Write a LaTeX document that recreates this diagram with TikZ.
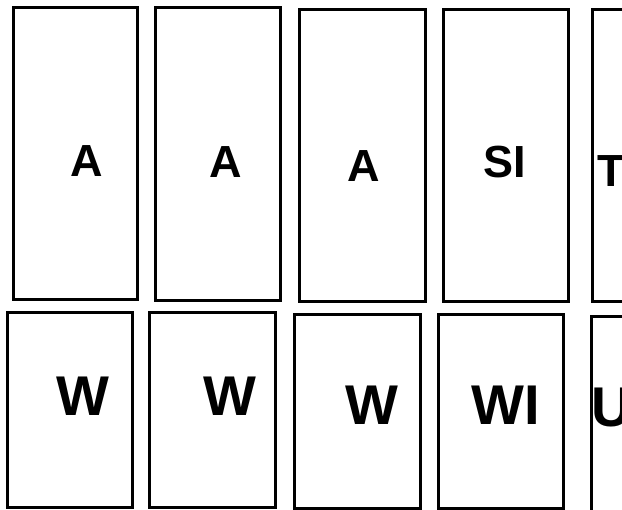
\documentclass[tikz,border=0pt]{standalone}
\usepackage{fontspec}
\setmainfont{Liberation Sans}
\begin{document}
\begin{tikzpicture}[x=1pt,y=1pt,
  box/.style={draw=black, line width=3pt, inner sep=0pt, fill=none},
  toplbl/.style={anchor=base, inner sep=0pt, font=\fontsize{45}{45}\selectfont\bfseries},
  botlbl/.style={anchor=base, inner sep=0pt, font=\fontsize{56}{56}\selectfont\bfseries}]
\useasboundingbox (0,0) rectangle (622,510);
\clip (0,0) rectangle (622,510);
\fill[white] (0,0) rectangle (622,510);
% top row
\node[box, minimum width=124pt, minimum height=292pt] (b1) at (75,356) {};
\node[box, minimum width=125pt, minimum height=293pt] (b2) at (217.5,355.5) {};
\node[box, minimum width=126pt, minimum height=292pt] (b3) at (362,354) {};
\node[box, minimum width=125pt, minimum height=292pt] (b4) at (505.5,354) {};
\node[box, minimum width=125pt, minimum height=292pt] (b5) at (654.5,354) {};
% bottom row
\node[box, minimum width=125pt, minimum height=195pt] (c1) at (69.5,99.5) {};
\node[box, minimum width=126pt, minimum height=195pt] (c2) at (212,99.5) {};
\node[box, minimum width=126pt, minimum height=194pt] (c3) at (357,98) {};
\node[box, minimum width=125pt, minimum height=194pt] (c4) at (500.5,98) {};
\node[box, minimum width=125pt, minimum height=240pt] (c5) at (653.5,73) {};
% labels
\node[toplbl] (la1) at (87,333) {A};
\node[toplbl] (la2) at (226,332) {A};
\node[toplbl] (la3) at (364,328) {A};
\node[toplbl] (lsi) at (505,332) {SI};
\node[toplbl, anchor=base west] (lt) at (597,323) {T};
\node[botlbl] (lw1) at (83,94) {W};
\node[botlbl] (lw2) at (230,94) {W};
\node[botlbl] (lw3) at (372,85) {W};
\node[botlbl] (lwi) at (506,85) {WI};
\node[botlbl, anchor=base west] (lu) at (591,83) {U};
\end{tikzpicture}
\end{document}
